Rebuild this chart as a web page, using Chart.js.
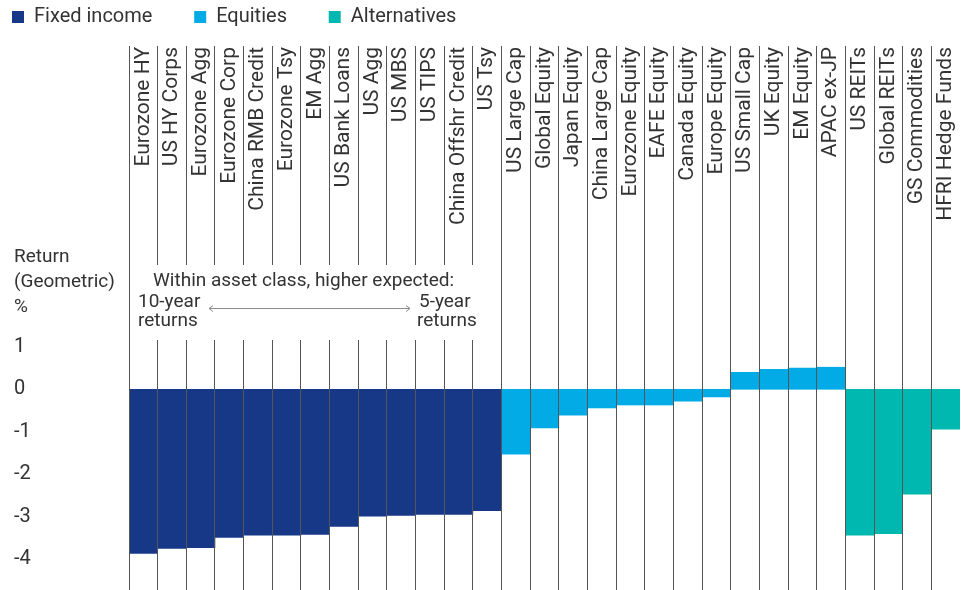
<!DOCTYPE html>
<html>
<head>
<meta charset="utf-8">
<title>Expected returns by asset class</title>
<script src="https://cdn.jsdelivr.net/npm/chart.js@4.4.1/dist/chart.umd.min.js"></script>
<style>
  html, body { margin: 0; padding: 0; background: #fff; }
  #wrap { width: 969px; height: 590px; }
</style>
</head>
<body>
<div id="wrap"><canvas id="chart"></canvas></div>
<script>
// Data
const fixedIncomeLabels = ['Eurozone HY', 'US HY Corps', 'Eurozone Agg', 'Eurozone Corp', 'China RMB Credit', 'Eurozone Tsy', 'EM Agg', 'US Bank Loans', 'US Agg', 'US MBS', 'US TIPS', 'China Offshr Credit', 'US Tsy'];
const fixedIncomeValues = [-3.87, -3.75, -3.73, -3.49, -3.44, -3.44, -3.42, -3.23, -2.99, -2.97, -2.95, -2.95, -2.86];
const equityLabels = ['US Large Cap', 'Global Equity', 'Japan Equity', 'China Large Cap', 'Eurozone Equity', 'EAFE Equity', 'Canada Equity', 'Europe Equity', 'US Small Cap', 'UK Equity', 'EM Equity', 'APAC ex-JP'];
const equityValues = [-1.53, -0.91, -0.61, -0.44, -0.37, -0.37, -0.28, -0.18, 0.40, 0.47, 0.50, 0.52];
const altLabels = ['US REITs', 'Global REITs', 'GS Commodities', 'HFRI Hedge Funds'];
const altValues = [-3.44, -3.40, -2.47, -0.94];
const yTicks = [1, 0, -1, -2, -3, -4];
const yTitle = ['Return', '(Geometric)', '%'];

const yMin = -4.73;
const yMax = 8.09;

const NAVY = '#173887';
const BLUE = '#03abe6';
const TEAL = '#00b8af';
const TEXT = '#333333';
const GRID = '#555555';

Chart.defaults.font.family = 'Roboto';
Chart.defaults.font.size = 20;
Chart.defaults.color = TEXT;

const categories = [...fixedIncomeLabels, ...equityLabels, ...altLabels];

function series(labels, values) {
  return labels.map((label, i) => ({ x: label, y: values[i] }));
}

// extra room under the legend
const legendGap = {
  id: 'legendGap',
  beforeInit(chart) {
    const fit = chart.legend.fit;
    chart.legend.fit = function () {
      fit.bind(chart.legend)();
      this.height += 9;
    };
  }
};

// note text above the fixed income bars + y axis title
const annotation = {
  id: 'annotation',
  afterDraw(chart) {
    const { ctx, chartArea, scales } = chart;
    const left = chartArea.left;
    ctx.save();
    ctx.fillStyle = '#fff';
    ctx.fillRect(left + 8, 265, 355, 75);

    ctx.font = '19px Roboto';
    ctx.fillStyle = TEXT;
    ctx.textBaseline = 'middle';
    ctx.textAlign = 'left';
    ctx.fillText('Within asset class, higher expected:', left + 24, 281);
    ctx.fillText('10-year', left + 9, 302);
    ctx.fillText('returns', left + 9, 321);
    ctx.fillText('5-year', left + 290, 302);
    ctx.fillText('returns', left + 288, 321);

    // double headed arrow
    const ax1 = left + 80, ax2 = left + 281, ay = 308.5;
    ctx.strokeStyle = '#8c8c8c';
    ctx.lineWidth = 1;
    ctx.beginPath();
    ctx.moveTo(ax1, ay);
    ctx.lineTo(ax2, ay);
    ctx.moveTo(ax1 + 4, ay - 3);
    ctx.lineTo(ax1, ay);
    ctx.lineTo(ax1 + 4, ay + 3);
    ctx.moveTo(ax2 - 4, ay - 3);
    ctx.lineTo(ax2, ay);
    ctx.lineTo(ax2 - 4, ay + 3);
    ctx.stroke();

    yTitle.forEach((t, i) => ctx.fillText(t, scales.y.left, 257 + i * 25));
    ctx.restore();
  }
};

const ctx = document.getElementById('chart').getContext('2d');
const chart = new Chart(ctx, {
  type: 'bar',
  data: {
    labels: categories,
    datasets: [
      { label: 'Fixed income', data: series(fixedIncomeLabels, fixedIncomeValues), backgroundColor: NAVY, yAxisID: 'y' },
      { label: 'Equities', data: series(equityLabels, equityValues), backgroundColor: BLUE, yAxisID: 'y' },
      { label: 'Alternatives', data: series(altLabels, altValues), backgroundColor: TEAL, yAxisID: 'y' },
    ],
  },
  options: {
    responsive: true,
    maintainAspectRatio: false,
    animation: false,
    layout: { padding: { top: -5, right: 9, bottom: 0, left: 0 } },
    datasets: {
      bar: { barPercentage: 1, categoryPercentage: 1, grouped: false, borderWidth: 0 },
    },
    plugins: {
      tooltip: { enabled: false },
      legend: {
        position: 'top',
        align: 'start',
        labels: {
          boxWidth: 12,
          boxHeight: 12,
          padding: 12,
          color: TEXT,
          font: { size: 20 },
          // wider gap between legend items
          generateLabels(c) {
            return Chart.defaults.plugins.legend.labels.generateLabels(c)
              .map((item) => ({ ...item, text: item.text + '      ' }));
          },
        },
      },
    },
    scales: {
      x: {
        type: 'category',
        position: { y: yMax },
        offset: true,
        grid: {
          offset: true,
          z: 1,
          drawTicks: false,
          lineWidth: 1,
          color: (c) => (c.index === undefined ? 'rgba(0,0,0,0)' : GRID),
        },
        border: { display: false },
        ticks: {
          autoSkip: false,
          minRotation: 90,
          maxRotation: 90,
          padding: 1,
          color: TEXT,
          font: { size: 21 },
        },
        afterFit: (a) => { a.paddingLeft = 0; a.paddingRight = 0; },
      },
      y: {
        position: 'left',
        weight: 0,
        min: yMin,
        max: yMax,
        grid: { display: false },
        border: { display: false },
        afterBuildTicks: (a) => { a.ticks = yTicks.map((v) => ({ value: v })); },
        ticks: {
          crossAlign: 'far',
          color: TEXT,
          font: { size: 20 },
          callback: (v) => String(v),
        },
        afterFit: (a) => { a.width = 115; a.paddingTop = 0; a.paddingBottom = 0; },
      },
      // left margin for the y labels
      pad: {
        type: 'linear',
        position: 'left',
        weight: 1,
        grid: { display: false },
        border: { display: false },
        ticks: { display: false },
        afterFit: (a) => { a.width = 14; },
      },
    },
  },
  plugins: [legendGap, annotation],
});
</script>
</body>
</html>
